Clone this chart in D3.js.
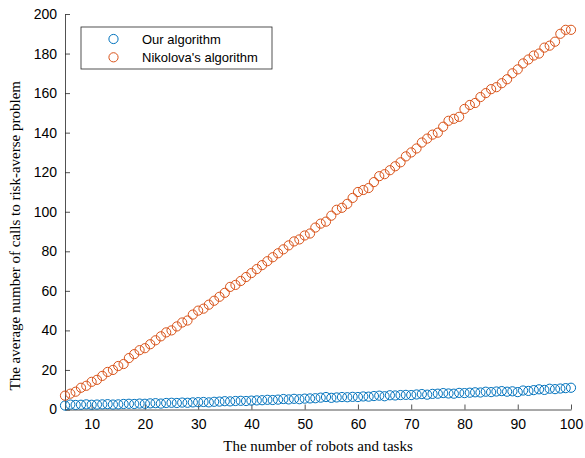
<!DOCTYPE html>
<html><head><meta charset="utf-8">
<script src="https://cdn.jsdelivr.net/npm/d3@7"></script>
<style>body{margin:0;background:#fff}</style>
</head><body>
<svg id="c" width="585" height="458"></svg>
<script>
const xs = d3.range(5, 101);
const ourAlgorithm = [2.0,2.5,2.3,2.4,2.6,2.4,2.5,2.6,2.7,2.5,2.6,2.8,2.9,2.8,3.0,2.9,3.1,3.2,3.0,3.3,3.4,3.3,3.5,3.4,3.6,3.7,3.8,3.6,3.9,4.0,4.2,4.1,4.3,4.4,4.3,4.5,4.6,4.7,4.9,4.8,5.0,5.3,5.1,5.4,5.2,5.5,5.6,5.7,6.0,6.3,5.9,6.1,6.3,6.2,6.4,6.3,6.6,6.5,6.8,7.0,6.7,7.2,7.1,7.3,7.4,7.3,7.6,7.8,7.5,7.9,8.0,8.3,8.1,8.0,8.4,8.3,8.5,8.7,8.6,9.0,8.8,9.1,9.3,9.0,9.2,8.8,9.6,9.4,9.8,10.2,9.9,10.5,10.3,10.6,10.8,11.0];
const nikolova = [7,8,9,11,12,14,15,17,19,20,22,23,26,28,30,31,33,35,37,39,40,42,44,45,48,50,51,53,55,57,59,62,63,65,67,69,71,73,75,77,79,81,83,85,86,88,89,92,94,95,98,101,102,104,107,110,111,112,115,118,119,121,123,125,128,130,132,135,137,139,140,143,146,147,148,152,154,155,158,160,162,163,165,167,170,172,175,177,179,180,183,184,186,190,192,192];
const xTicks = [10,20,30,40,50,60,70,80,90,100];
const yTicks = [0,20,40,60,80,100,120,140,160,180,200];
const seriesNames = ["Our algorithm", "Nikolova's algorithm"];
const colors = ["#0072BD", "#D95319"];

const svg = d3.select("#c");
const L = 65, R = 571, T = 14, B = 409.5;
const x = d3.scaleLinear().domain([5, 100]).range([L, R]);
const y = d3.scaleLinear().domain([0, 200]).range([B, T]);
const axisColor = "#262626";

const xAxis = svg.append("g").attr("transform", `translate(0,${B})`)
  .call(d3.axisBottom(x).tickValues(xTicks).tickSizeInner(-5).tickSizeOuter(0).tickPadding(10));
const yAxis = svg.append("g").attr("transform", `translate(${L},0)`)
  .call(d3.axisLeft(y).tickValues(yTicks).tickSizeInner(-5).tickSizeOuter(0).tickPadding(8));
[xAxis, yAxis].forEach(g => {
  g.select(".domain").attr("stroke", axisColor).attr("stroke-width", 0.8);
  g.selectAll(".tick line").attr("stroke", axisColor).attr("stroke-width", 0.8);
  g.selectAll(".tick text").attr("fill", "#000").attr("font-family", "Liberation Sans, Arial, sans-serif").attr("font-size", 14);
});

const data = [ourAlgorithm, nikolova];
data.forEach((vals, i) => {
  svg.append("g").selectAll("circle").data(vals).join("circle")
    .attr("cx", (d, j) => x(xs[j])).attr("cy", d => y(d)).attr("r", 4.6)
    .attr("fill", "none").attr("stroke", colors[i]).attr("stroke-width", 1);
});

svg.append("text").attr("x", (L + R) / 2).attr("y", 451)
  .attr("text-anchor", "middle").attr("font-family", "Liberation Serif, Times New Roman, serif")
  .attr("font-size", 15).text("The number of robots and tasks");
svg.append("text").attr("transform", `translate(20,${(T + B) / 2 + 24}) rotate(-90)`)
  .attr("text-anchor", "middle").attr("font-family", "Liberation Serif, Times New Roman, serif")
  .attr("font-size", 15).text("The average number of calls to risk-averse problem");

const lg = svg.append("g");
lg.append("rect").attr("x", 81).attr("y", 27).attr("width", 191).attr("height", 42)
  .attr("fill", "#fff").attr("stroke", axisColor).attr("stroke-width", 0.8);
seriesNames.forEach((n, i) => {
  const yy = 39 + i * 18.3;
  lg.append("circle").attr("cx", 113.5).attr("cy", yy).attr("r", 4.6)
    .attr("fill", "none").attr("stroke", colors[i]).attr("stroke-width", 1);
  lg.append("text").attr("x", 142).attr("y", yy + 4.5)
    .attr("font-family", "Liberation Sans, Arial, sans-serif").attr("font-size", 13).text(n);
});
</script>
</body></html>
